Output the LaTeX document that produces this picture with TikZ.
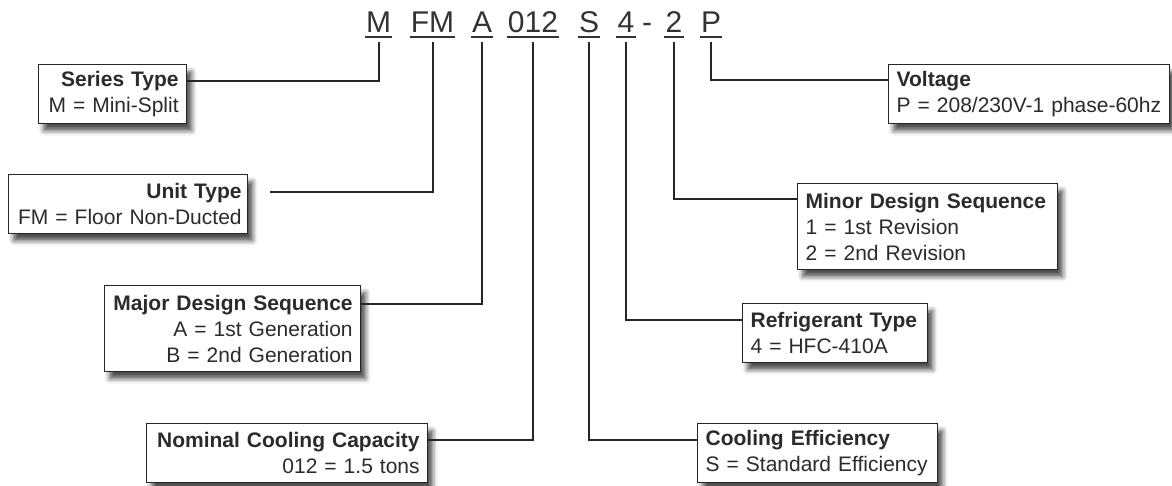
\documentclass[tikz,border=0pt]{standalone}
\usepackage{fontspec}
\setmainfont{Liberation Sans}
\usetikzlibrary{shadows.blur}
\definecolor{codegray}{HTML}{333333}
\definecolor{linegray}{HTML}{262626}
\definecolor{textgray}{HTML}{2B2B2B}
\tikzset{
  code letter/.style={
    font=\fontsize{30}{30}\selectfont,
    text=codegray,
    inner xsep=1pt,
    inner ysep=0pt,
    anchor=base
  },
  code line/.style={
    draw=codegray,
    line width=1.8pt
  },
  lead/.style={
    draw=linegray,
    line width=2pt
  },
  info box/.style={
    draw=linegray,
    line width=1.3pt,
    fill=white,
    anchor=north west,
    inner xsep=8pt,
    inner ysep=0pt,
    font=\fontsize{21}{26}\selectfont,
    text=textgray,
    blur shadow={shadow xshift=5pt, shadow yshift=-7pt,
      shadow blur radius=5pt, shadow opacity=70}
  }
}

\begin{document}
\begin{tikzpicture}[x=1pt, y=-1pt]
  \useasboundingbox (0,0) rectangle (1172,485);

  % model number
  \node[code letter] (cM)   at (378.5,32) {M};
  \node[code letter] (cFM)  at (432.5,32) {FM};
  \node[code letter] (cA)   at (482,32)   {A};
  \node[code letter] (c012) at (533,32)   {012};
  \node[code letter] (cS)   at (589,32)   {S};
  \node[code letter] (c4)   at (626,32)   {4};
  \node[code letter] (cdash) at (647,32)  {-};
  \node[code letter] (c2)   at (674,32)   {2};
  \node[code letter] (cP)   at (711,32)   {P};
  \foreach \c in {cM,cFM,cA,c012,cS,c4,c2,cP}
    \draw[code line] ([yshift=-5pt]\c.base west) -- ([yshift=-5pt]\c.base east);

  % left side boxes
  \node[info box, text width=132pt, minimum height=59pt, align=right] (series) at (38,64)
    {\textbf{Series Type}\\M = Mini-Split};
  \node[info box, inner xsep=6pt, text width=227pt, minimum height=59pt, align=right] (unit) at (8,174)
    {\textbf{Unit Type}\\\mbox{FM = Floor Non-Ducted}};
  \node[info box, text width=240pt, minimum height=86pt, align=right] (major) at (104,285)
    {\textbf{Major Design Sequence}\\A = 1st Generation\\B = 2nd Generation};
  \node[info box, text width=265pt, minimum height=59pt, align=right] (nominal) at (146,423)
    {\textbf{Nominal Cooling Capacity}\\012 = 1.5 tons};

  % right side boxes
  \node[info box, text width=265pt, minimum height=59pt, align=left] (voltage) at (888,64)
    {\textbf{Voltage}\\P = 208/230V-1 phase-60hz};
  \node[info box, text width=244pt, minimum height=86pt, align=left] (minor) at (797,183)
    {\textbf{Minor Design Sequence}\\1 = 1st Revision\\2 = 2nd Revision};
  \node[info box, text width=169pt, minimum height=59pt, align=left] (refrig) at (742,303)
    {\textbf{Refrigerant Type}\\4 = HFC-410A};
  \node[info box, text width=224pt, minimum height=59pt, align=left] (cooling) at (697,423)
    {\textbf{Cooling Efficiency}\\S = Standard Efficiency};

  % leads
  \draw[lead] ([yshift=-10pt]cM.base) |- ([yshift=-17pt]series.north east);
  \draw[lead] ([yshift=-10pt]cFM.base) |- ([xshift=22pt,yshift=-18pt]unit.north east);
  \draw[lead] ([yshift=-10pt]cA.base) |- ([yshift=-19pt]major.north east);
  \draw[lead] ([yshift=-10pt]c012.base) |- ([yshift=-17pt]nominal.north east);
  \draw[lead] ([yshift=-10pt]cS.base) |- ([yshift=-17pt]cooling.north west);
  \draw[lead] ([yshift=-10pt]c4.base) |- ([yshift=-17pt]refrig.north west);
  \draw[lead] ([yshift=-10pt]c2.base) |- ([yshift=-16pt]minor.north west);
  \draw[lead] ([yshift=-10pt]cP.base) |- ([yshift=-16pt]voltage.north west);
\end{tikzpicture}
\end{document}
